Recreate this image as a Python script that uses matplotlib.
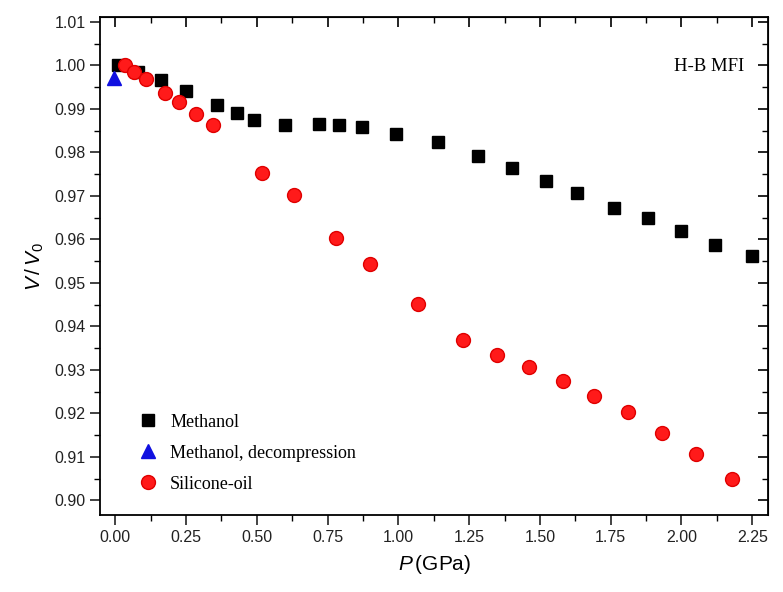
import numpy as np
import matplotlib
matplotlib.use("Agg")
import matplotlib.pyplot as plt
from matplotlib.ticker import MultipleLocator, FormatStrFormatter

# Methanol, compression
p_meth = [0.01, 0.08, 0.16, 0.25, 0.36, 0.43, 0.49, 0.60, 0.72, 0.79, 0.87,
          0.99, 1.14, 1.28, 1.40, 1.52, 1.63, 1.76, 1.88, 2.00, 2.12, 2.25]
v_meth = [1.0000, 0.9985, 0.9966, 0.9941, 0.9910, 0.9891, 0.9875, 0.9864,
          0.9866, 0.9864, 0.9859, 0.9842, 0.9823, 0.9791, 0.9764, 0.9735,
          0.9706, 0.9672, 0.9650, 0.9619, 0.9587, 0.9562]

# Methanol, decompression
p_dec = [-0.005]
v_dec = [0.9970]

# Silicone oil
p_sil = [0.035, 0.065, 0.11, 0.175, 0.225, 0.285, 0.345, 0.52, 0.63, 0.78,
         0.90, 1.07, 1.23, 1.35, 1.46, 1.58, 1.69, 1.81, 1.93, 2.05, 2.18]
v_sil = [1.0000, 0.9986, 0.9969, 0.9937, 0.9915, 0.9888, 0.9862, 0.9753,
         0.9703, 0.9603, 0.9544, 0.9452, 0.9368, 0.9334, 0.9306, 0.9274,
         0.9239, 0.9202, 0.9154, 0.9106, 0.9050]

serif = ["Liberation Serif", "DejaVu Serif"]
sans = ["Liberation Sans", "DejaVu Sans"]
plt.rcParams["font.family"] = sans
plt.rcParams["mathtext.fontset"] = "custom"
plt.rcParams["mathtext.it"] = "Liberation Sans:italic"
plt.rcParams["mathtext.rm"] = "Liberation Sans"
plt.rcParams["mathtext.default"] = "it"

fig = plt.figure(figsize=(7.83, 5.92), dpi=100)
ax = fig.add_axes([0.128, 0.130, 0.853, 0.841])

ax.plot(p_meth, v_meth, linestyle="none", marker="s", markersize=9,
        color="black", label="Methanol", zorder=3)
ax.plot(p_dec, v_dec, linestyle="none", marker="^", markersize=10,
        color="#1010e0", label="Methanol, decompression", zorder=3)
ax.plot(p_sil, v_sil, linestyle="none", marker="o", markersize=10,
        color="#ff1a1a", markeredgecolor="#e00000", label="Silicone-oil",
        zorder=4)

ax.set_xlim(-0.053, 2.306)
ax.set_ylim(0.8966, 1.0111)
ax.xaxis.set_major_locator(MultipleLocator(0.25))
ax.xaxis.set_minor_locator(MultipleLocator(0.125))
ax.yaxis.set_major_locator(MultipleLocator(0.01))
ax.yaxis.set_minor_locator(MultipleLocator(0.005))
ax.xaxis.set_major_formatter(FormatStrFormatter("%.2f"))
ax.yaxis.set_major_formatter(FormatStrFormatter("%.2f"))

for side in ax.spines.values():
    side.set_linewidth(1.3)
ax.tick_params(which="major", direction="out", length=7, width=1.2,
               labelsize=11.5, top=False, right=False, colors="#222222")
ax.tick_params(which="minor", direction="out", length=4, width=1.0,
               top=False, right=False)
# inward ticks on top and right
ax2 = ax.secondary_xaxis("top")
ax2.xaxis.set_major_locator(MultipleLocator(0.25))
ax2.xaxis.set_minor_locator(MultipleLocator(0.125))
ax2.tick_params(which="major", direction="in", length=7, width=1.2, labeltop=False)
ax2.tick_params(which="minor", direction="in", length=4, width=1.0)
ax3 = ax.secondary_yaxis("right")
ax3.yaxis.set_major_locator(MultipleLocator(0.01))
ax3.yaxis.set_minor_locator(MultipleLocator(0.005))
ax3.tick_params(which="major", direction="in", length=7, width=1.2, labelright=False)
ax3.tick_params(which="minor", direction="in", length=4, width=1.0)

ax.set_xlabel(r"$P\,$(GPa)", fontsize=15, labelpad=6)
ax.set_ylabel(r"$V\,/\,V_0$", fontsize=15, labelpad=6)

ax.text(0.965, 0.90, "H-B MFI", transform=ax.transAxes, ha="right",
        va="center", fontsize=13.5, family=serif)

ax.legend(loc="lower left", bbox_to_anchor=(0.033, 0.012), frameon=False,
          prop={"family": serif, "size": 13}, handletextpad=0.75,
          labelspacing=0.78, handlelength=1.0)

fig.savefig("out.png", dpi=100)
